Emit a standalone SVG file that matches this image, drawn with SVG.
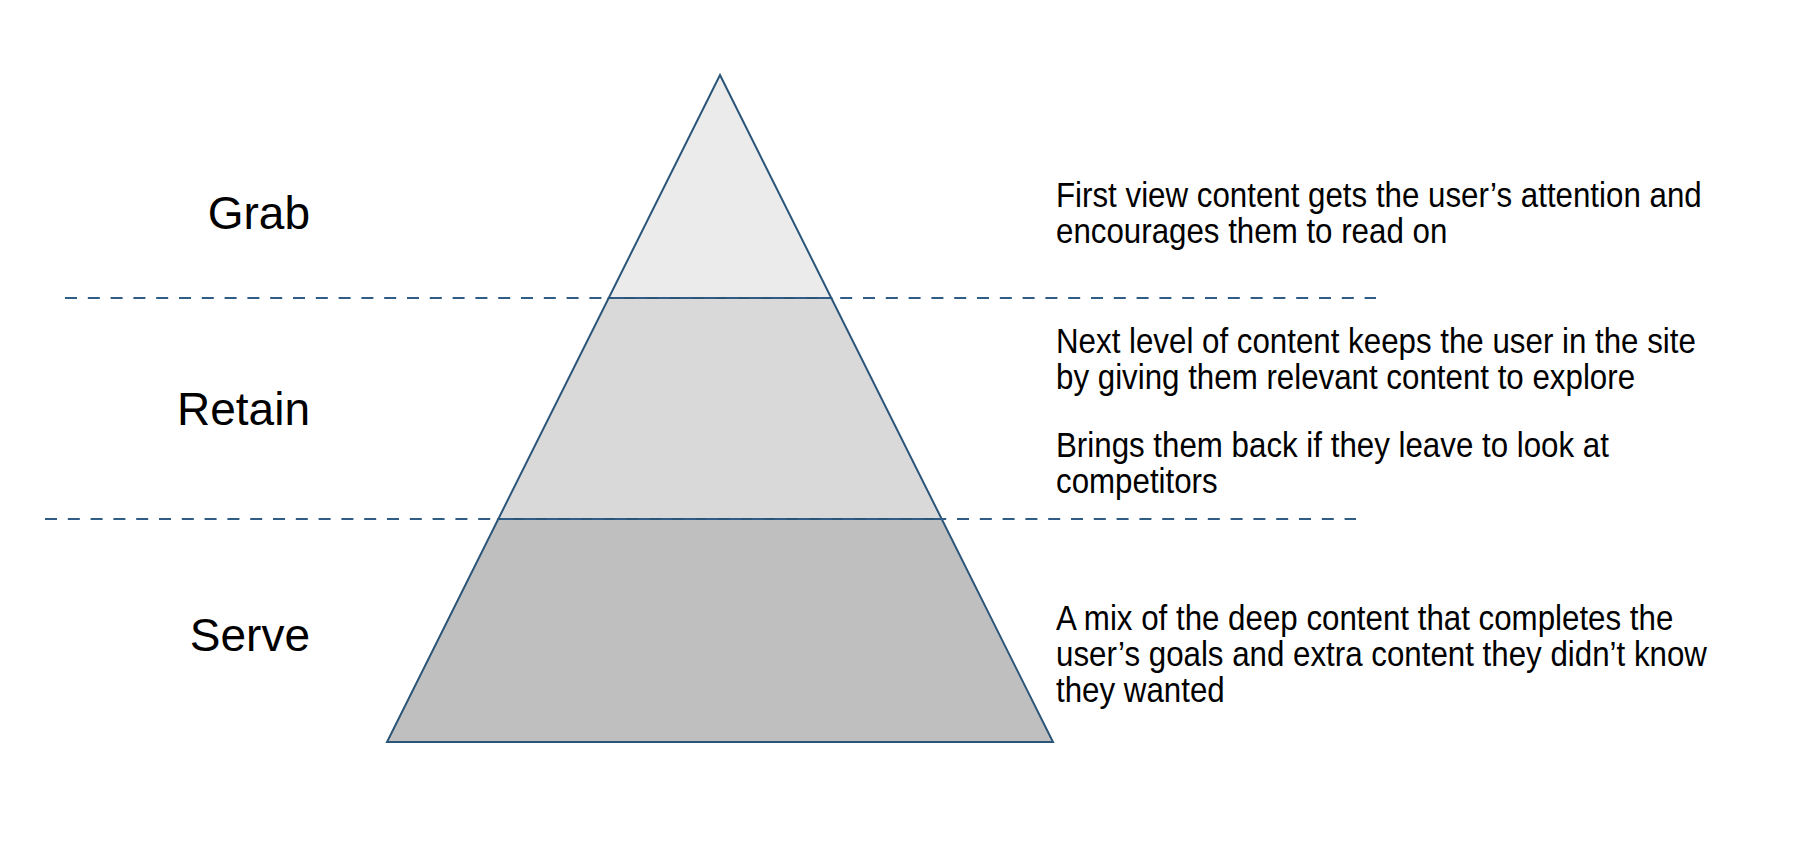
<svg xmlns="http://www.w3.org/2000/svg" width="1807" height="848" viewBox="0 0 1807 848">
<style>
.lbl{font-family:"Liberation Sans",Arial,sans-serif;font-size:46px;fill:#000;text-anchor:end}
.desc{font-family:"Liberation Sans",Arial,sans-serif;font-size:35px;fill:#000}
.tier{stroke:#2b5578;stroke-width:2;stroke-linejoin:miter}
.dash{stroke:#2f5d85;stroke-width:2;stroke-dasharray:12 10.8;fill:none}
</style>
<rect width="1807" height="848" fill="#fff"/>
<g id="tier-serve"><polygon class="tier" points="498.3,519 941.7,519 1053,742 387,742" fill="#bfbfbf"/></g>
<g id="tier-retain"><polygon class="tier" points="608.7,298 831.3,298 941.7,519 498.3,519" fill="#d9d9d9"/></g>
<g id="tier-grab"><polygon class="tier" points="720,75 831.3,298 608.7,298" fill="#ebebeb"/></g>
<g id="connectors">
<line class="dash" x1="65" y1="298" x2="1376" y2="298"/>
<line class="dash" x1="45" y1="519" x2="1356" y2="519"/>
</g>
<g id="label-grab"><text class="lbl" x="310" y="229">Grab</text></g>
<g id="label-retain"><text class="lbl" x="310" y="425">Retain</text></g>
<g id="label-serve"><text class="lbl" x="310" y="651">Serve</text></g>
<g id="desc-grab" transform="translate(1056,0) scale(0.894,1)">
<text class="desc" x="0" y="207">First view content gets the user’s attention and</text>
<text class="desc" x="0" y="243">encourages them to read on</text>
</g>
<g id="desc-retain" transform="translate(1056,0) scale(0.894,1)">
<text class="desc" x="0" y="353">Next level of content keeps the user in the site</text>
<text class="desc" x="0" y="389">by giving them relevant content to explore</text>
<text class="desc" x="0" y="457">Brings them back if they leave to look at</text>
<text class="desc" x="0" y="493">competitors</text>
</g>
<g id="desc-serve" transform="translate(1056,0) scale(0.894,1)">
<text class="desc" x="0" y="630">A mix of the deep content that completes the</text>
<text class="desc" x="0" y="666">user’s goals and extra content they didn’t know</text>
<text class="desc" x="0" y="702">they wanted</text>
</g>
</svg>
